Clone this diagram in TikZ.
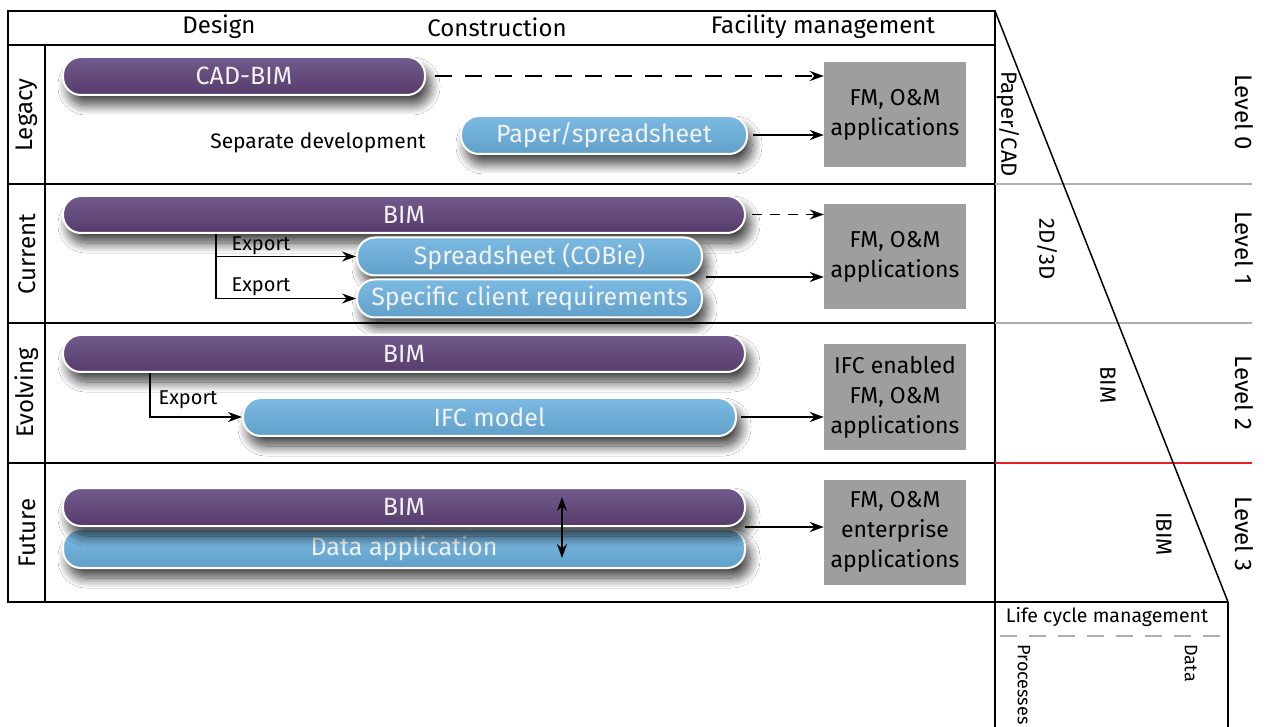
\documentclass[tikz,border=0pt]{standalone}
\usepackage{fontspec}
\setmainfont{Fira Sans}
\usetikzlibrary{arrows.meta,shadows.blur}
\definecolor{purpT}{RGB}{114,90,140}
\definecolor{purpB}{RGB}{86,60,108}
\definecolor{blueT}{RGB}{124,186,226}
\definecolor{blueB}{RGB}{96,160,202}
\definecolor{fmgrey}{RGB}{158,158,158}
\definecolor{lgrey}{RGB}{175,175,175}
\definecolor{redline}{RGB}{230,30,40}
\tikzset{
  bar/.style={draw=white, line width=2pt, rounded corners=18pt, minimum height=38pt,
    inner sep=0pt, text=white!95!black, font=\fontsize{25}{28}\selectfont,
    blur shadow={shadow xshift=5pt, shadow yshift=-10pt, shadow blur radius=10pt, shadow blur steps=14, shadow opacity=75}},
  pbar/.style={bar, top color=purpT, bottom color=purpB},
  bbar/.style={bar, top color=blueT, bottom color=blueB},
  fmbox/.style={fill=fmgrey, minimum width=142pt, minimum height=105pt, align=center,
    inner sep=0pt, font=\fontsize{23}{30}\selectfont},
  arr/.style={-{Stealth[length=14pt,width=10pt]}, line width=1.4pt},
  dbl/.style={{Stealth[length=14pt,width=10pt]}-{Stealth[length=14pt,width=10pt]}, line width=1.4pt},
  frame/.style={line width=1.8pt, black},
  gline/.style={line width=1.6pt, lgrey},
  hdr/.style={font=\fontsize{24}{26}\selectfont},
  rowlbl/.style={font=\fontsize{24}{26}\selectfont, rotate=90},
  lvl/.style={font=\fontsize{24}{26}\selectfont, rotate=-90},
  small/.style={font=\fontsize{20}{22}\selectfont},
}
\begin{document}
\begin{tikzpicture}[x=1pt,y=-1pt]
\useasboundingbox (0,0) rectangle (1270,727);
\fill[white] (0,0) rectangle (1270,727);
% frame
\draw[frame] (8,11) rectangle (995,602);
\draw[frame] (8,45) -- (995,45);
\draw[frame] (45,45) -- (45,602);
\draw[frame] (8,184) -- (995,184);
\draw[frame] (8,323) -- (995,323);
\draw[frame] (8,463) -- (995,463);
\draw[gline] (995,184) -- (1252,184);
\draw[gline] (995,323) -- (1252,323);
\draw[line width=1.6pt, redline] (995,463) -- (1252,463);
\draw[line width=1.5pt] (995,11) -- (1228,602);
\draw[frame] (995,602) -- (995,727);
\draw[frame] (1228,602) -- (1228,727);
\draw[frame] (995,602) -- (1228,602);
\draw[gline, dash pattern=on 17pt off 12pt] (1000,636) -- (1228,636);
% header
\node[hdr] (hdes) at (219,27) {Design};
\node[hdr] (hcon) at (497,27) {Construction};
\node[hdr] (hfm) at (823,27) {Facility management};
% row labels
\node[rowlbl] (rleg) at (27,115) {Legacy};
\node[rowlbl] (rcur) at (27,254) {Current};
\node[rowlbl] (revo) at (27,393) {Evolving};
\node[rowlbl] (rfut) at (27,533) {Future};
% right labels
\node[lvl, font=\fontsize{22}{24}\selectfont] (pcad) at (1008,124) {Paper/CAD};
\node[lvl, font=\fontsize{22}{24}\selectfont] (t2d) at (1047,249) {2D/3D};
\node[lvl, font=\fontsize{22}{24}\selectfont] (tbim) at (1108,385) {BIM};
\node[lvl, font=\fontsize{22}{24}\selectfont] (tibim) at (1164,534) {IBIM};
\node[lvl] (l0) at (1244,112) {Level 0};
\node[lvl] (l1) at (1244,248) {Level 1};
\node[lvl] (l2) at (1244,393) {Level 2};
\node[lvl] (l3) at (1244,534) {Level 3};
\node[font=\fontsize{19.5}{22}\selectfont] (lcm) at (1107,617) {Life cycle management};
\node[font=\fontsize{18}{20}\selectfont, rotate=-90, anchor=west] (proc) at (1024,641) {Processes};
\node[font=\fontsize{18}{20}\selectfont, rotate=-90, anchor=west] (data) at (1191,641) {Data};
% FM boxes
\node[fmbox] (fm0) at (895,114.5) {FM, O\&M\\applications};
\node[fmbox] (fm1) at (895,256.5) {FM, O\&M\\applications};
\node[fmbox] (fm2) at (895,397) {IFC enabled\\FM, O\&M\\applications};
\node[fmbox] (fm3) at (895,532) {FM, O\&M\\enterprise\\applications};
% Legacy
\node[pbar, minimum width=362pt] (cad) at (244,76) {CAD-BIM};
\node[bbar, minimum width=286pt] (paper) at (604,135) {Paper/spreadsheet};
\node[font=\fontsize{21}{24}\selectfont] (sep) at (318,143) {Separate development};
\draw[arr, dash pattern=on 17pt off 13pt] ([xshift=9pt]cad.east) -- (cad.east -| fm0.west);
\draw[arr] ([xshift=5pt]paper.east) -- (paper.east -| fm0.west);
% Current
\node[pbar, minimum width=682pt, minimum height=37pt] (bim1) at (404,214.5) {BIM};
\node[bbar, minimum width=345pt] (cobie) at (529.5,256.5) {Spreadsheet (COBie)};
\node[bbar, minimum width=345pt] (spec) at (529.5,298.5) {Specific client requirements};
\coordinate (x1) at (216,0);
\coordinate (j1) at (706,277);
\draw[arr, dash pattern=on 10pt off 8pt] ([xshift=6pt]bim1.east) -- (bim1.east -| fm1.west);
\draw[arr] (j1) -- (j1 -| fm1.west);
\draw[arr] (bim1.south -| x1) |- (cobie.west);
\draw[arr] (bim1.south -| x1) |- (spec.west);
\node[small] (ex1) at (261,246) {Export};
\node[small] (ex2) at (261,287) {Export};
% Evolving
\node[pbar, minimum width=682pt, minimum height=37pt] (bim2) at (404,353.5) {BIM};
\node[bbar, minimum width=493pt] (ifc) at (489.5,417) {IFC model};
\coordinate (x2) at (150,0);
\draw[arr] (bim2.south -| x2) |- (ifc.west);
\node[small] (ex3) at (188,400) {Export};
\draw[arr] ([xshift=4pt]ifc.east) -- (ifc.east -| fm2.west);
% Future
\node[bbar, minimum width=682pt, minimum height=39pt] (dapp) at (404,548.5) {Data application};
\node[pbar, minimum width=682pt] (bim3) at (404,507) {BIM};
\coordinate (j3) at (745,527);
\coordinate (d1) at (562,497);
\coordinate (d2) at (562,558);
\draw[arr] (j3) -- (j3 -| fm3.west);
\draw[dbl] (d1) -- (d2);
\end{tikzpicture}
\end{document}
